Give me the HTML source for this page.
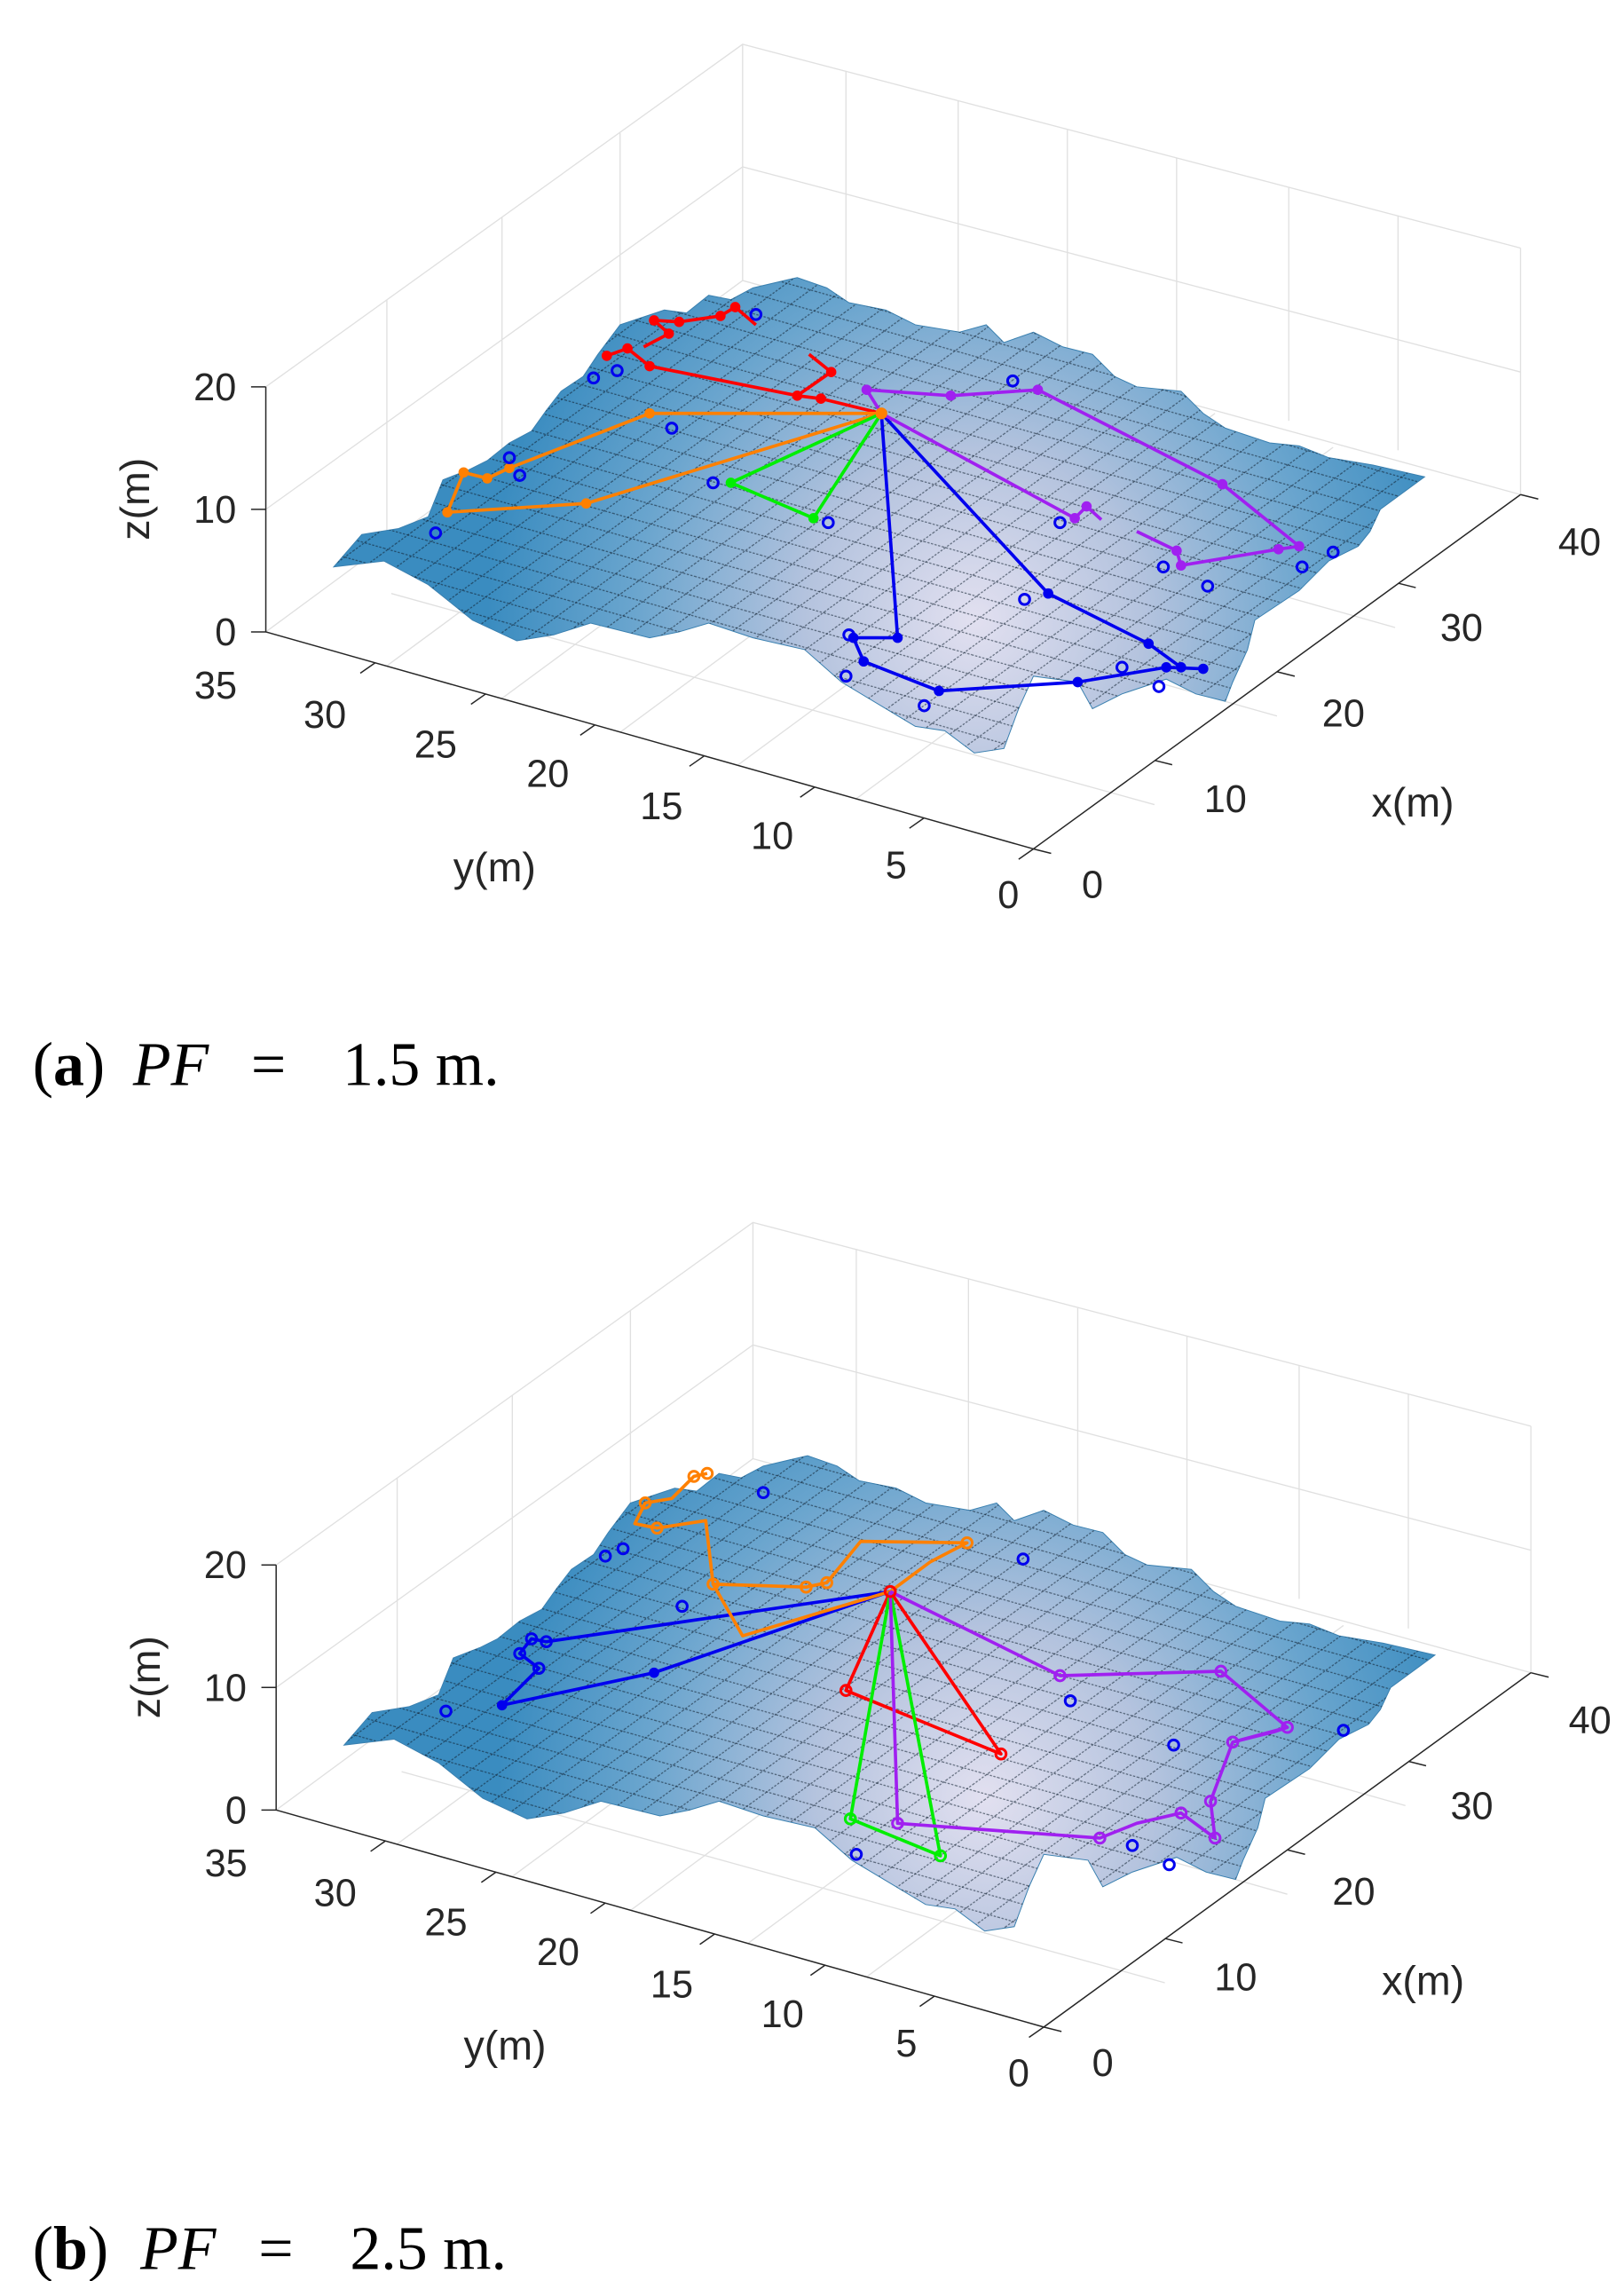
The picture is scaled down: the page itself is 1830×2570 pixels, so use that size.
<!DOCTYPE html>
<html><head><meta charset="utf-8"><style>
html,body{margin:0;padding:0;background:#fff;}
svg{display:block;}
text{font-family:"Liberation Sans",sans-serif;fill:#262626;}
.cap{font-family:"Liberation Serif",serif;fill:#000;}
</style></head><body>
<svg width="1830" height="2570" viewBox="0 0 1100 1545" xmlns="http://www.w3.org/2000/svg">
<defs>
<radialGradient id="sg" gradientUnits="userSpaceOnUse" cx="660" cy="420" r="330">
<stop offset="0" stop-color="#e2e0f0"/><stop offset="0.35" stop-color="#b4c3de"/><stop offset="0.7" stop-color="#6aa5ce"/><stop offset="1" stop-color="#3a8cc0"/>
</radialGradient>
<pattern id="py" width="13" height="13" patternUnits="userSpaceOnUse" patternTransform="rotate(15.8)"><line x1="0" y1="0.5" x2="13" y2="0.5" stroke="#102030" stroke-width="0.7" stroke-dasharray="1.5 1"/></pattern>
<pattern id="px" width="13" height="13" patternUnits="userSpaceOnUse" patternTransform="rotate(-36)"><line x1="0" y1="0.5" x2="13" y2="0.5" stroke="#102030" stroke-width="0.7" stroke-dasharray="1.5 1"/></pattern>
<g id="box" fill="none" stroke="#e0e0e0" stroke-width="0.8">
<polyline points="180,262 503,30 1030,168"/>
<polyline points="180,345 503,113 1030,252"/>
<line x1="503" y1="30" x2="503" y2="190"/>
<line x1="1030" y1="168" x2="1030" y2="335"/>
<line x1="262" y1="203" x2="262" y2="370"/><line x1="340" y1="147" x2="340" y2="312"/><line x1="420" y1="90" x2="420" y2="250"/>
<line x1="573" y1="48" x2="573" y2="205"/><line x1="649" y1="68" x2="649" y2="225"/><line x1="723" y1="88" x2="723" y2="245"/><line x1="797" y1="107" x2="797" y2="265"/><line x1="873" y1="127" x2="873" y2="285"/><line x1="947" y1="146" x2="947" y2="305"/>
<line x1="180" y1="428" x2="503" y2="190"/><line x1="503" y1="190" x2="1030" y2="335"/>
<line x1="262" y1="451" x2="585" y2="213"/><line x1="340" y1="473" x2="663" y2="235"/><line x1="420" y1="496" x2="743" y2="257"/><line x1="500" y1="518" x2="823" y2="280"/><line x1="580" y1="541" x2="903" y2="303"/>
<line x1="265" y1="402" x2="782" y2="545"/><line x1="350" y1="340" x2="865" y2="485"/><line x1="430" y1="280" x2="945" y2="425"/>
</g>
<g id="axes" stroke="#262626" stroke-width="0.9" fill="none">
<polyline points="180,262 180,428 700,575 1030,335"/>
<line x1="180" y1="262" x2="170" y2="262"/><line x1="180" y1="345" x2="170" y2="345"/><line x1="180" y1="428" x2="170" y2="428"/>
<line x1="700" y1="575" x2="690" y2="582"/><line x1="626" y1="554" x2="616" y2="561"/><line x1="552" y1="533" x2="542" y2="540"/><line x1="477" y1="512" x2="467" y2="519"/><line x1="403" y1="491" x2="393" y2="498"/><line x1="329" y1="470" x2="319" y2="477"/><line x1="254" y1="449" x2="244" y2="456"/>
<line x1="700" y1="575" x2="712" y2="578"/><line x1="782" y1="515" x2="794" y2="518"/><line x1="865" y1="455" x2="877" y2="458"/><line x1="947" y1="395" x2="959" y2="398"/><line x1="1030" y1="335" x2="1042" y2="338"/>
</g>
<g id="ticks" font-size="26">
<text x="160" y="271" text-anchor="end">20</text><text x="160" y="354" text-anchor="end">10</text><text x="160" y="437" text-anchor="end">0</text>
<text x="683" y="615" text-anchor="middle">0</text><text x="607" y="595" text-anchor="middle">5</text><text x="523" y="575" text-anchor="middle">10</text><text x="448" y="555" text-anchor="middle">15</text><text x="371" y="533" text-anchor="middle">20</text><text x="295" y="513" text-anchor="middle">25</text><text x="220" y="493" text-anchor="middle">30</text><text x="146" y="473" text-anchor="middle">35</text>
<text x="740" y="608" text-anchor="middle">0</text><text x="830" y="550" text-anchor="middle">10</text><text x="910" y="492" text-anchor="middle">20</text><text x="990" y="434" text-anchor="middle">30</text><text x="1070" y="376" text-anchor="middle">40</text>
<text x="335" y="597" text-anchor="middle" font-size="28">y(m)</text><text x="957" y="553" text-anchor="middle" font-size="28">x(m)</text>
<text x="0" y="0" font-size="28" text-anchor="middle" transform="translate(101,338) rotate(-90)">z(m)</text>
</g>
<path id="surf" d="M226,384 L245,362 L270,358 L290,350 L300,325 L318,318 L330,312 L345,300 L360,292 L370,278 L380,265 L395,255 L405,240 L420,220 L450,210 L465,212 L480,200 L495,203 L510,195 L540,188 L560,195 L575,205 L600,210 L620,220 L650,225 L668,220 L680,232 L700,225 L720,235 L740,240 L755,255 L770,262 L800,265 L815,280 L830,290 L860,300 L880,302 L900,310 L930,315 L965,323 L935,345 L928,360 L920,370 L900,380 L888,392 L880,400 L850,420 L845,440 L835,462 L830,475 L810,470 L790,460 L760,470 L740,480 L730,462 L700,458 L690,480 L680,507 L660,510 L640,495 L620,492 L600,480 L570,462 L545,440 L510,432 L480,422 L460,428 L440,432 L400,422 L375,430 L350,434 L320,420 L290,396 L260,380 Z"/>
<g id="surfg">
<use href="#surf" fill="url(#sg)" stroke="#3a80b0" stroke-width="0.6"/>
<use href="#surf" fill="url(#py)" opacity="0.6"/>
<use href="#surf" fill="url(#px)" opacity="0.6"/>
</g>
</defs>

<!-- Panel a -->
<use href="#box"/><use href="#surfg"/><use href="#axes"/><use href="#ticks"/>
<g fill="none" stroke-width="2.2" stroke-linejoin="round">
<polyline stroke="#ff0000" points="411,241 425,236 440,248 540,268 556,270 597,280"/>
<polyline stroke="#ff0000" points="540,268 563,252 548,240"/>
<polyline stroke="#ff0000" points="443,217 460,218 488,214 498,208 512,220"/>
<polyline stroke="#ff0000" points="443,217 453,226 436,235"/>
<polyline stroke="#ff8000" points="597,280 440,280 345,317 330,324 314,320 303,347 397,341 597,280"/>
<polyline stroke="#00ee00" points="597,280 495,327 551,351 597,280"/>
<polyline stroke="#0000ee" points="597,280 608,432 578,432 585,448 636,468 730,462 790,452 815,453"/>
<polyline stroke="#0000ee" points="597,280 710,402 778,436 800,452"/>
<polyline stroke="#a020f0" points="597,280 587,264 644,268 703,264 828,328 880,370 866,372 800,383 797,373 770,360"/>
<polyline stroke="#a020f0" points="597,280 728,351 736,343 746,352"/>
</g>
<g fill="#ff0000"><circle cx="411" cy="241" r="3.5"/><circle cx="425" cy="236" r="3.5"/><circle cx="440" cy="248" r="3.5"/><circle cx="540" cy="268" r="3.5"/><circle cx="556" cy="270" r="3.5"/><circle cx="563" cy="252" r="3.5"/><circle cx="443" cy="217" r="3.5"/><circle cx="460" cy="218" r="3.5"/><circle cx="488" cy="214" r="3.5"/><circle cx="498" cy="208" r="3.5"/><circle cx="453" cy="226" r="3.5"/></g>
<g fill="#ff8000"><circle cx="440" cy="280" r="3.5"/><circle cx="345" cy="317" r="3.5"/><circle cx="330" cy="324" r="3.5"/><circle cx="314" cy="320" r="3.5"/><circle cx="303" cy="347" r="3.5"/><circle cx="397" cy="341" r="3.5"/><circle cx="597" cy="280" r="4"/></g>
<g fill="#00ee00"><circle cx="495" cy="327" r="3.5"/><circle cx="551" cy="351" r="3.5"/></g>
<g fill="#0000ee"><circle cx="608" cy="432" r="3.5"/><circle cx="578" cy="432" r="3.5"/><circle cx="585" cy="448" r="3.5"/><circle cx="636" cy="468" r="3.5"/><circle cx="730" cy="462" r="3.5"/><circle cx="790" cy="452" r="3.5"/><circle cx="815" cy="453" r="3.5"/><circle cx="710" cy="402" r="3.5"/><circle cx="778" cy="436" r="3.5"/><circle cx="800" cy="452" r="3.5"/></g>
<g fill="#a020f0"><circle cx="587" cy="264" r="3.5"/><circle cx="644" cy="268" r="3.5"/><circle cx="703" cy="264" r="3.5"/><circle cx="828" cy="328" r="3.5"/><circle cx="880" cy="370" r="3.5"/><circle cx="866" cy="372" r="3.5"/><circle cx="800" cy="383" r="3.5"/><circle cx="797" cy="373" r="3.5"/><circle cx="728" cy="351" r="3.5"/><circle cx="736" cy="343" r="3.5"/></g>
<g fill="none" stroke="#0000ee" stroke-width="1.8">
<circle cx="418" cy="251" r="3.5"/><circle cx="402" cy="256" r="3.5"/><circle cx="512" cy="213" r="3.5"/><circle cx="561" cy="354" r="3.5"/><circle cx="483" cy="327" r="3.5"/><circle cx="295" cy="361" r="3.5"/><circle cx="352" cy="322" r="3.5"/><circle cx="686" cy="258" r="3.5"/><circle cx="718" cy="354" r="3.5"/><circle cx="694" cy="406" r="3.5"/><circle cx="575" cy="430" r="3.5"/><circle cx="573" cy="458" r="3.5"/><circle cx="626" cy="478" r="3.5"/><circle cx="788" cy="384" r="3.5"/><circle cx="882" cy="384" r="3.5"/><circle cx="903" cy="374" r="3.5"/><circle cx="818" cy="397" r="3.5"/><circle cx="760" cy="452" r="3.5"/><circle cx="785" cy="465" r="3.5"/><circle cx="455" cy="290" r="3.5"/><circle cx="345" cy="310" r="3.5"/></g>
<text class="cap" y="735" font-size="42"><tspan x="22">(<tspan font-weight="bold">a</tspan>)</tspan><tspan x="90" font-style="italic">PF</tspan><tspan x="170">=</tspan><tspan x="232">1.5 m.</tspan></text>

<!-- Panel b -->
<g transform="translate(7,798)">
<use href="#box"/><use href="#surfg"/><use href="#axes"/><use href="#ticks"/>
<g fill="none" stroke-width="2.2" stroke-linejoin="round">
<polyline stroke="#0000ee" points="596,280 436,335 333,357 358,332 345,322 353,312 363,314 596,280"/>
<polyline stroke="#ff8000" points="596,280 496,310 476,275 471,232 438,237 423,234 430,220 448,217 463,202 472,200"/>
<polyline stroke="#ff8000" points="596,280 623,260 648,247 576,246 553,274 539,277 476,275"/>
<polyline stroke="#ff0000" points="596,280 566,347 671,390 596,280"/>
<polyline stroke="#00ee00" points="596,280 569,434 630,459 596,280"/>
<polyline stroke="#a020f0" points="596,280 711,337 820,334 865,372 828,382 813,422 816,447 793,430 763,437 738,447 601,437 596,280"/>
<polyline stroke="#a020f0" points="828,382 856,375 865,372"/>
</g>
<g fill="#0000ee"><circle cx="436" cy="335" r="3.5"/><circle cx="333" cy="357" r="3.5"/></g>
<g fill="none" stroke="#0000ee" stroke-width="1.8"><circle cx="358" cy="332" r="3.5"/><circle cx="345" cy="322" r="3.5"/><circle cx="353" cy="312" r="3.5"/><circle cx="363" cy="314" r="3.5"/></g>
<g fill="none" stroke="#ff8000" stroke-width="1.8"><circle cx="472" cy="200" r="3.5"/><circle cx="463" cy="202" r="3.5"/><circle cx="430" cy="220" r="3.5"/><circle cx="438" cy="237" r="3.5"/><circle cx="476" cy="275" r="3.5"/><circle cx="539" cy="277" r="3.5"/><circle cx="553" cy="274" r="3.5"/><circle cx="648" cy="247" r="3.5"/></g>
<g fill="none" stroke="#ff0000" stroke-width="1.8"><circle cx="566" cy="347" r="3.5"/><circle cx="671" cy="390" r="3.5"/><circle cx="596" cy="280" r="3.5"/></g>
<g fill="none" stroke="#00ee00" stroke-width="1.8"><circle cx="569" cy="434" r="3.5"/><circle cx="630" cy="459" r="3.5"/></g>
<g fill="none" stroke="#a020f0" stroke-width="1.8"><circle cx="711" cy="337" r="3.5"/><circle cx="820" cy="334" r="3.5"/><circle cx="865" cy="372" r="3.5"/><circle cx="828" cy="382" r="3.5"/><circle cx="813" cy="422" r="3.5"/><circle cx="816" cy="447" r="3.5"/><circle cx="793" cy="430" r="3.5"/><circle cx="738" cy="447" r="3.5"/><circle cx="601" cy="437" r="3.5"/></g>
<g fill="none" stroke="#0000ee" stroke-width="1.8"><circle cx="415" cy="251" r="3.5"/><circle cx="403" cy="256" r="3.5"/><circle cx="510" cy="213" r="3.5"/><circle cx="295" cy="361" r="3.5"/><circle cx="686" cy="258" r="3.5"/><circle cx="718" cy="354" r="3.5"/><circle cx="573" cy="458" r="3.5"/><circle cx="788" cy="384" r="3.5"/><circle cx="903" cy="374" r="3.5"/><circle cx="760" cy="452" r="3.5"/><circle cx="785" cy="465" r="3.5"/><circle cx="455" cy="290" r="3.5"/></g>
</g>
<text class="cap" y="1537" font-size="42"><tspan x="22">(<tspan font-weight="bold">b</tspan>)</tspan><tspan x="95" font-style="italic">PF</tspan><tspan x="175">=</tspan><tspan x="237">2.5 m.</tspan></text>
</svg>
</body></html>
